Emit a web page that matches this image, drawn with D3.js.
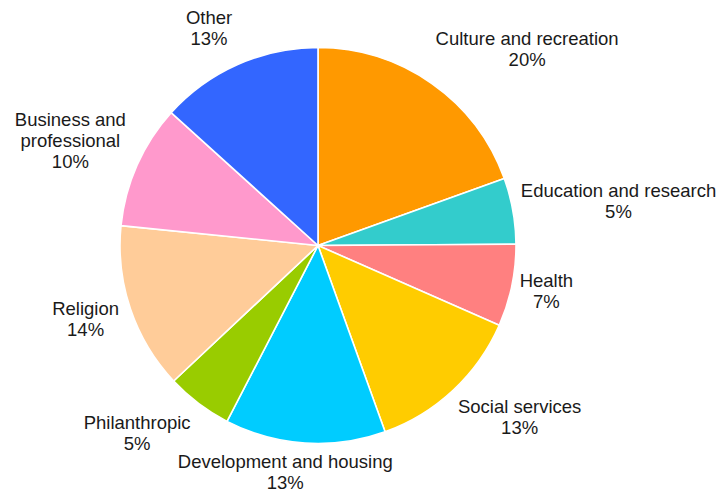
<!DOCTYPE html>
<html>
<head>
<meta charset="utf-8">
<script src="https://cdn.jsdelivr.net/npm/d3@7"></script>
<style>
  html, body { margin: 0; padding: 0; background: #fff; }
  svg { display: block; }
  text { font-family: "Liberation Sans", Arial, sans-serif; fill: #1a1a1a; }
</style>
</head>
<body>
<svg id="chart" width="716" height="494"></svg>
<script>
// Nonprofit organisations by activity area (share of total, %)
const categories = [
  ["Culture and recreation"],
  ["Education and research"],
  ["Health"],
  ["Social services"],
  ["Development and housing"],
  ["Philanthropic"],
  ["Religion"],
  ["Business and", "professional"],
  ["Other"]
];
const shares = [19.5, 5.4, 6.7, 12.9, 13.1, 5.4, 13.6, 10.1, 13.3];
const colors = ["#FF9900", "#33CCCC", "#FF8080", "#FFCC00", "#00CCFF",
                "#99CC00", "#FFCC99", "#FF99CC", "#3366FF"];

const width = 716, height = 494;
const cx = 318, cy = 245.5, radius = 198;
const fontSize = 18.5, lineHeight = 21;

const svg = d3.select("#chart");
const g = svg.append("g").attr("transform", `translate(${cx},${cy})`);

const data = shares.map((v, i) => ({ name: categories[i], value: v, color: colors[i] }));
const total = d3.sum(shares);
const fmt = d3.format(".0%");

const pie = d3.pie().sort(null).value(d => d.value).startAngle(0).endAngle(2 * Math.PI);
const arcs = pie(data);
const arc = d3.arc().innerRadius(0).outerRadius(radius);

g.selectAll("path.slice")
  .data(arcs)
  .join("path")
  .attr("class", "slice")
  .attr("d", arc)
  .attr("fill", d => d.data.color)
  .attr("stroke", "#fff")
  .attr("stroke-width", 1.6)
  .attr("stroke-linejoin", "round");

// Labels sit just outside the rim; each text block is pushed away from its
// anchor point in the direction of the slice's mid-angle.
const anchorRx = radius + 10, anchorRy = radius + 18;
const anchorDx = -2, anchorDy = -2.8;
const kx = 2.4, ky = 1.3;
const clamp = v => Math.max(-1, Math.min(1, v));
// vertical extent of the glyphs (cap top to baseline) inside the text bbox
const capGap = (0.905 - 0.716) * fontSize, descent = 0.212 * fontSize;

const labels = g.selectAll("g.label")
  .data(arcs)
  .join("g")
  .attr("class", "label");

labels.each(function(d) {
  const lines = d.data.name.concat([fmt(d.data.value / total)]);
  const t = d3.select(this).append("text")
    .attr("text-anchor", "middle")
    .style("font-size", fontSize + "px");
  lines.forEach((ln, i) => {
    t.append("tspan").attr("x", 0).attr("y", i * lineHeight).text(ln);
  });
  const bb = t.node().getBBox();
  const top = bb.y + capGap, bottom = bb.y + bb.height - descent;
  const h = bottom - top;
  const a = (d.startAngle + d.endAngle) / 2;
  const ax = anchorDx + anchorRx * Math.sin(a);
  const ay = anchorDy - anchorRy * Math.cos(a);
  const fx = clamp(Math.sin(a) * kx), fy = clamp(-Math.cos(a) * ky);
  const bcx = ax + fx * bb.width / 2;
  const bcy = ay + fy * h / 2;
  let dx = bcx - (bb.x + bb.width / 2);
  let dy = bcy - (top + h / 2);
  // keep the whole block inside the drawing area
  const maxBottom = height - cy - 1;
  if (bb.y + bb.height + dy > maxBottom) dy = maxBottom - (bb.y + bb.height);
  t.attr("transform", `translate(${dx},${dy})`);
});
</script>
</body>
</html>
